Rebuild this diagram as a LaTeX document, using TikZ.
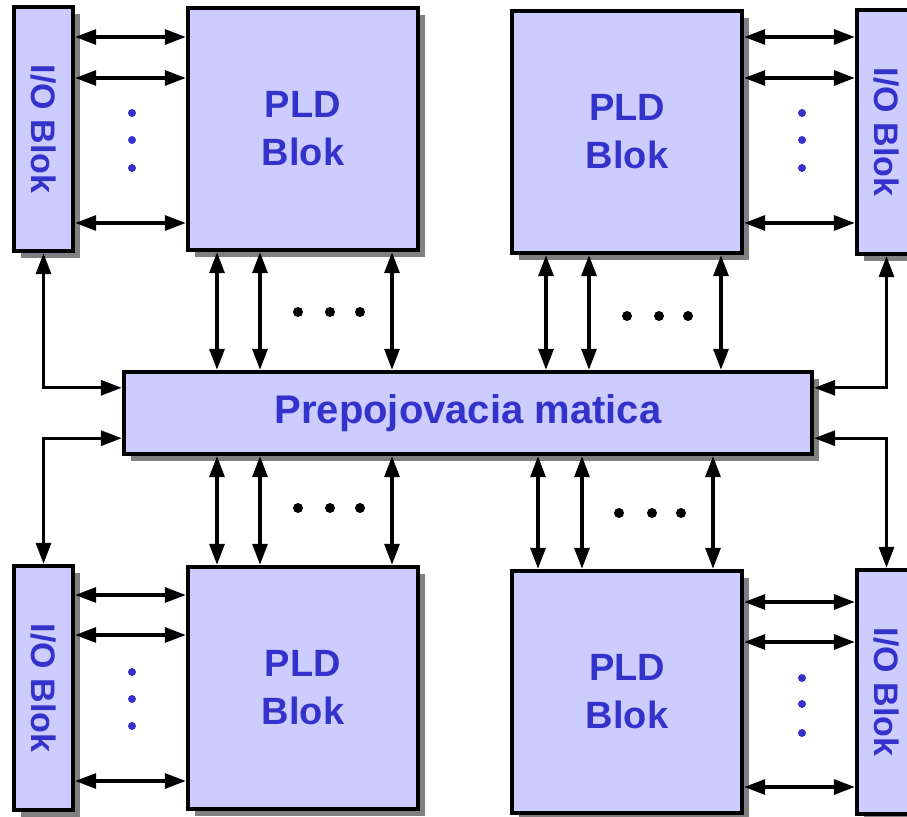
\documentclass[tikz,border=0pt]{standalone}
\usepackage{graphicx}
\usepackage{fontspec}
\setmainfont{Liberation Sans}
\usetikzlibrary{arrows.meta,calc,positioning,shadows}
\definecolor{blokfill}{HTML}{CCCCFF}
\definecolor{bloktext}{HTML}{3333CC}
\tikzset{%
	blok/.style = {draw, line width=2.2pt, fill=blokfill, text=bloktext, inner sep=0pt, align=center,
		drop shadow={shadow xshift=3.5pt, shadow yshift=-3.5pt, fill=black!50, opacity=1}},
	pld/.style  = {blok, minimum width=115pt, minimum height=121pt, font=\fontsize{19}{24}\selectfont\bfseries},
	io/.style   = {blok, minimum width=29.5pt, minimum height=122pt, font=\fontsize{17}{20}\selectfont\bfseries},
	link/.style = {line width=1.6pt, {Triangle[length=10.5pt,width=7.5pt]}-{Triangle[length=10.5pt,width=7.5pt]}},
}
\newcommand{\ioname}{\rotatebox{-90}{I/O Blok}}

\begin{document}
\begin{tikzpicture}[x=0.5pt,y=-0.5pt]
	\useasboundingbox (0,0) rectangle (907,817);
	\clip (0,0) rectangle (907,817);
	% blocks
	\node[io]  (iotl)  at (43.5,129) {\ioname};
	\node[pld] (pldtl) at (303,129) {PLD\\Blok};
	\node[pld] (pldtr) at (627,132) {PLD\\Blok};
	\node[io]  (iotr)  at (886.5,132) {\ioname};
	\node[io]  (iobl)  at (43.5,688) {\ioname};
	\node[pld] (pldbl) at (303,688) {PLD\\Blok};
	\node[pld] (pldbr) at (627,692) {PLD\\Blok};
	\node[io]  (iobr)  at (886.5,692) {\ioname};
	\node[blok, minimum width=344pt, minimum height=41pt, font=\fontsize{20}{24}\selectfont\bfseries]
		(mat) at (468,413) {Prepojovacia matica};

	% I/O <-> PLD
	\foreach \y in {37,78,223}
		\draw[link] (iotl.east |- 0,\y) -- (pldtl.west |- 0,\y);
	\foreach \y in {37,78,223}
		\draw[link] (pldtr.east |- 0,\y) -- (iotr.west |- 0,\y);
	\foreach \y in {595,635,781}
		\draw[link] (iobl.east |- 0,\y) -- (pldbl.west |- 0,\y);
	\foreach \y in {602,642,787}
		\draw[link] (pldbr.east |- 0,\y) -- (iobr.west |- 0,\y);

	% PLD <-> matica
	\foreach \x in {217,260,392}{
		\draw[link] (pldtl.south -| \x,0) -- (mat.north -| \x,0);
		\draw[link] (mat.south -| \x,0) -- (pldbl.north -| \x,0);
	}
	\foreach \x in {546,589,721}
		\draw[link] (pldtr.south -| \x,0) -- (mat.north -| \x,0);
	\foreach \x in {538,582,713}
		\draw[link] (mat.south -| \x,0) -- (pldbr.north -| \x,0);

	% I/O <-> matica
	\draw[link] (iotl.south) |- ($(mat.north west)+(0,18)$);
	\draw[link] ($(mat.south west)+(0,-18)$) -| (iobl.north);
	\draw[link] (iotr.south) |- ($(mat.north east)+(0,18)$);
	\draw[link] ($(mat.south east)+(0,-18)$) -| (iobr.north);

	% dots
	\foreach \y in {113,140,168}{
		\fill[bloktext] (132,\y) circle (2pt);
		\fill[bloktext] (802,\y) circle (2pt);
	}
	\foreach \y in {672,699,726}
		\fill[bloktext] (132,\y) circle (2pt);
	\foreach \y in {678,704,733}
		\fill[bloktext] (802,\y) circle (2pt);
	\foreach \x in {298,330,360}{
		\fill (\x,312) circle (2.5pt);
		\fill (\x,508) circle (2.5pt);
	}
	\foreach \x in {627,659,688}
		\fill (\x,316) circle (2.5pt);
	\foreach \x in {619,652,681}
		\fill (\x,513) circle (2.5pt);
\end{tikzpicture}
\end{document}
